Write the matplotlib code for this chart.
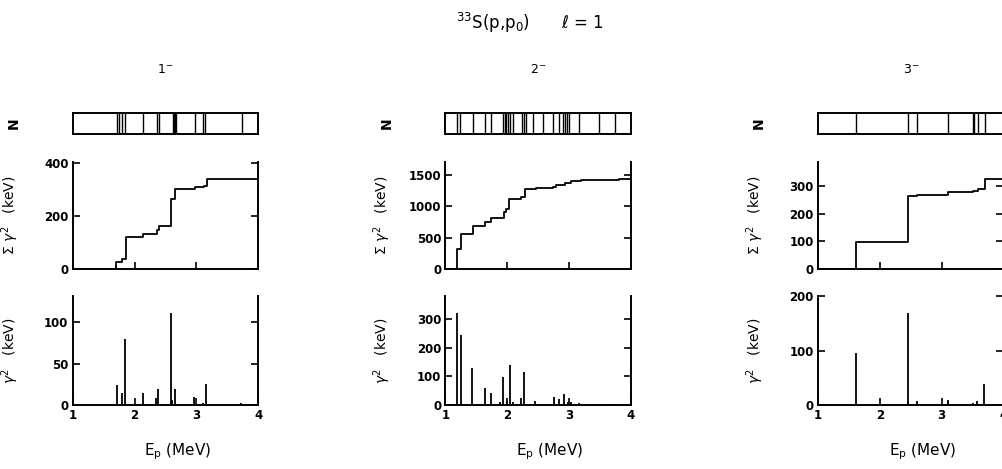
import matplotlib.pyplot as plt

# 33S(p,p0), l = 1 : resonances split by J-pi
spin_labels = ["1", "2", "3"]

# 1- : level strip, reduced widths and running sum
strip_e_1 = [1.71, 1.755, 1.79, 1.846, 2.143, 2.36, 2.40, 2.62, 2.635, 2.65,
             2.665, 2.98, 3.10, 3.14, 3.73]
stick_e_1 = [1.711, 1.79, 1.845, 2.13, 2.34, 2.38, 2.583, 2.60, 2.653, 2.966,
             3.11, 3.154, 3.714]
stick_g_1 = [24, 15, 80, 15, 8, 19, 111, 6, 19, 10, 2, 26, 3]
cum_e_1 = [1.70, 1.79, 1.857, 2.143, 2.36, 2.40, 2.585, 2.66, 2.98, 3.12,
           3.17, 3.72]
cum_s_1 = [25, 39, 120, 134, 146, 162, 266, 301, 311, 315, 339, 342]

# 2-
strip_e_2 = [1.184, 1.237, 1.44, 1.65, 1.747, 1.934, 1.961, 1.989, 2.014,
             2.04, 2.095, 2.246, 2.267, 2.30, 2.417, 2.578, 2.739, 2.846,
             2.91, 2.94, 2.97, 3.006, 3.17, 3.48, 3.75]
stick_e_2 = [1.193, 1.247, 1.435, 1.634, 1.736, 1.89, 1.94, 1.99, 2.05, 2.10,
             2.225, 2.27, 2.455, 2.755, 2.84, 2.926, 2.98, 3.04, 3.16, 3.5,
             3.74]
stick_g_2 = [321, 243, 128, 58, 43, 9, 97, 13, 141, 12, 23, 116, 15, 27, 20,
             37, 9, 10, 8, 3, 5]
cum_e_2 = [1.194, 1.253, 1.441, 1.64, 1.747, 1.945, 1.988, 2.031, 2.23, 2.283,
           2.47, 2.74, 2.79, 2.93, 3.035, 3.196, 3.49, 3.81]
cum_s_2 = [314, 564, 681, 755, 809, 915, 952, 1117, 1154, 1271, 1293, 1314,
           1335, 1378, 1399, 1415, 1426, 1431]

# 3-
strip_e_3 = [1.618, 2.45, 2.60, 3.10, 3.50, 3.53, 3.58, 3.70]
stick_e_3 = [1.615, 2.45, 2.60, 3.10, 3.50, 3.57, 3.69]
stick_g_3 = [96, 168, 8, 9, 4, 8, 39]
cum_e_3 = [1.618, 2.45, 2.60, 3.11, 3.50, 3.58, 3.70]
cum_s_3 = [96, 263, 269, 277, 281, 289, 324]

cum_ticks = [[0, 200, 400], [0, 500, 1000, 1500], [0, 100, 200, 300]]
stick_ticks = [[0, 50, 100], [0, 100, 200, 300], [0, 100, 200]]

FIG_W, FIG_H = 1003, 469
LW = 1.4


def px_box(left, top, width, height):
    return [left / FIG_W, 1 - (top + height) / FIG_H, width / FIG_W, height / FIG_H]


def style_ticks(ax):
    ax.tick_params(direction="in", length=5, width=1.2, labelsize=8.5, pad=3)
    for lbl in ax.get_xticklabels() + ax.get_yticklabels():
        lbl.set_fontweight("bold")


def draw_column(fig, left, label, strip_e, stick_e, stick_g, cum_e, cum_s,
                cticks, sticks_, cum_top, stick_top):
    width = 185.5
    ylab_x = -52 / width

    # level strip
    ax_n = fig.add_axes(px_box(left, 113, width, 21))
    ax_n.vlines(strip_e, 0, 1, color="black", lw=1.0)
    ax_n.set_xlim(1, 4)
    ax_n.set_ylim(0, 1)
    ax_n.set_xticks([])
    ax_n.set_yticks([])
    for sp in ax_n.spines.values():
        sp.set_linewidth(LW)
    ax_n.set_ylabel("N", fontsize=10, fontweight="bold", rotation=90)
    ax_n.yaxis.set_label_coords(ylab_x, 0.5)
    ax_n.set_title(r"$%s^{-}$" % label, fontsize=9, pad=29)

    # running sum of reduced widths
    ax_c = fig.add_axes(px_box(left, 162, width, 107))
    ax_c.step([1.0] + cum_e + [4.0], [0] + cum_s + [cum_s[-1]],
              where="post", color="black", lw=1.3)
    ax_c.set_xlim(1, 4)
    ax_c.set_ylim(0, cum_top)
    ax_c.set_xticks([2, 3])
    ax_c.set_yticks(cticks)
    ax_c.tick_params(labelbottom=False, right=True)
    ax_c.spines["top"].set_visible(False)
    for sp in ("left", "right", "bottom"):
        ax_c.spines[sp].set_linewidth(LW)
    style_ticks(ax_c)
    ax_c.set_ylabel(r"$\Sigma\ \gamma^2$   (keV)", fontsize=10)
    ax_c.yaxis.set_label_coords(ylab_x, 0.5)

    # individual reduced widths
    ax_s = fig.add_axes(px_box(left, 296, width, 109))
    ax_s.vlines(stick_e, 0, stick_g, color="black", lw=1.3)
    ax_s.set_xlim(1, 4)
    ax_s.set_ylim(0, stick_top)
    ax_s.set_xticks([1, 2, 3, 4])
    ax_s.set_yticks(sticks_)
    ax_s.tick_params(right=True)
    ax_s.spines["top"].set_visible(False)
    for sp in ("left", "right", "bottom"):
        ax_s.spines[sp].set_linewidth(LW)
    style_ticks(ax_s)
    ax_s.set_ylabel(r"$\gamma^2$   (keV)", fontsize=10)
    ax_s.yaxis.set_label_coords(ylab_x, 0.5)
    ax_s.set_xlabel(r"E$_{\rm p}$ (MeV)", fontsize=11)
    ax_s.xaxis.set_label_coords(0.565, -0.33)


def main():
    fig = plt.figure(figsize=(FIG_W / 100, FIG_H / 100), dpi=100)
    fig.patch.set_facecolor("white")

    lefts = [72.7, 445.3, 818.0]
    columns = [
        (strip_e_1, stick_e_1, stick_g_1, cum_e_1, cum_s_1),
        (strip_e_2, stick_e_2, stick_g_2, cum_e_2, cum_s_2),
        (strip_e_3, stick_e_3, stick_g_3, cum_e_3, cum_s_3),
    ]
    cum_tops = [405, 1710, 387]
    stick_tops = [132, 380, 200]
    for i, (left, col) in enumerate(zip(lefts, columns)):
        draw_column(fig, left, spin_labels[i], *col, cum_ticks[i],
                    stick_ticks[i], cum_tops[i], stick_tops[i])

    fig.text(0.528, 0.952, r"$^{33}$S(p,p$_0$)      ℓ = 1",
             ha="center", va="center", fontsize=12)

    fig.savefig("out.png", dpi=100)


if __name__ == "__main__":
    main()
